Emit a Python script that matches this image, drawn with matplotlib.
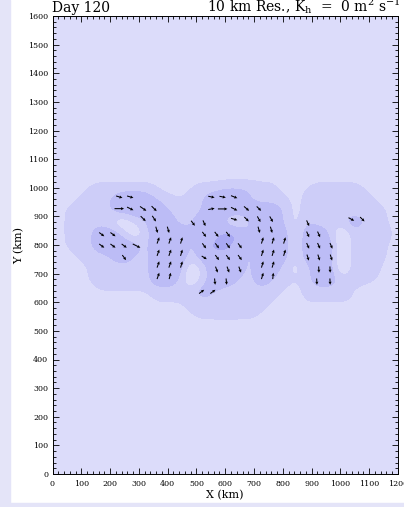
import numpy as np
import matplotlib.pyplot as plt
from matplotlib.colors import ListedColormap, BoundaryNorm
from matplotlib.patches import Rectangle
from matplotlib.ticker import MultipleLocator

plt.rcParams['font.family'] = ['DejaVu Serif']
plt.rcParams['mathtext.fontset'] = 'dejavuserif'

# shaded field on a 40 km grid
# 0 lighter than background, 2 background, 4 first shade, 7 second shade, 9 darkest
grid_x = np.arange(0, 1201, 40)
grid_y = np.arange(1080, 519, -40)
field_rows = [
    "2222222222" "2222222222" "2222222222" "2",  # 1080
    "2222222222" "2222222222" "2222222222" "2",  # 1040
    "2223444443" "2234455544" "2234444322" "2",  # 1000
    "2234457775" "4345777544" "4244444432" "2",  # 960
    "2344457777" "5445777777" "5244444443" "2",  # 920
    "2344430357" "7457741577" "5254447543" "2",  # 880
    "2344775047" "7755799547" "7277504444" "2",  # 840
    "2344777747" "7747997477" "7277704443" "2",  # 800
    "2234457547" "7747777477" "7277704443" "2",  # 760
    "2223444447" "7704777477" "4247704442" "2",  # 720
    "2223444447" "7504775475" "4347744432" "2",  # 680
    "2222333334" "4447544444" "3244443222" "2",  # 640
    "2222222223" "3344444443" "2233333222" "2",  # 600
    "2222222222" "2234444432" "2222222222" "2",  # 560
    "2222222222" "2222222222" "2222222222" "2",  # 520
]
field = np.array([[int(c) for c in row] for row in field_rows], float)

# wind vectors: position (km) and components
arrow_x = [232, 270, 232, 270, 315, 353, 315, 353, 362, 402,
           367, 408, 448, 367, 408, 448, 367, 408, 448, 367, 408,
           171, 210, 171, 210, 249, 292, 249,
           552, 591, 631, 552, 591, 631, 631, 674, 717, 674, 717, 760, 717, 760,
           729, 766, 806, 729, 766, 806, 729, 766, 729, 766,
           488, 527, 527, 570, 610, 527, 572, 610, 651, 527, 572, 610, 651,
           570, 610, 651, 564, 604, 518, 557,
           887, 887, 925, 887, 925, 968, 887, 925, 968, 925, 964, 918, 964,
           1038, 1076]
arrow_y = [968, 968, 927, 927, 927, 927, 892, 892, 853, 853,
           816, 816, 816, 773, 773, 773, 732, 732, 732, 692, 692,
           837, 837, 797, 797, 797, 797, 756,
           968, 968, 968, 926, 926, 926, 890, 927, 927, 890, 890, 890, 853, 853,
           816, 816, 816, 773, 773, 773, 732, 732, 692, 692,
           876, 876, 837, 837, 837, 797, 797, 797, 797, 756, 756, 756, 756,
           714, 714, 714, 672, 672, 637, 637,
           876, 837, 837, 797, 797, 797, 756, 756, 756, 714, 714, 672, 672,
           890, 890]
arrow_u = [1.0, 1.0, 1.5, 1.0, 1.0, 0.8, 0.8, 0.6, 0.3, 0.3,
           0.35, 0.35, 0.3, 0.35, 0.35, 0.3, 0.35, 0.35, 0.3, 0.35, 0.25,
           0.8, 0.8, 0.8, 0.8, 0.8, 1.2, 0.6,
           1.0, 1.0, 1.0, 1.0, 1.5, 1.0, 1.0, 0.8, 0.7, 0.7, 0.5, 0.5, 0.3, 0.3,
           0.3, 0.3, 0.3, 0.3, 0.3, 0.3, 0.3, 0.3, 0.3, 0.1,
           0.6, 0.4, 0.6, 0.6, 0.6, 0.6, 0.6, 0.6, 0.6, 0.8, 0.6, 0.6, 0.6,
           0.35, 0.35, 0.35, 0.1, 0.1, 0.8, 0.8,
           0.4, 0.4, 0.4, 0.4, 0.4, 0.4, 0.3, 0.3, 0.3, 0.05, 0.05, 0.05, 0.05,
           0.9, 0.7]
arrow_v = [-0.3, -0.3, 0.0, -0.5, -0.7, -0.8, -0.8, -0.9, -1.0, -1.0,
           1.0, 1.0, 1.0, 1.0, 1.0, 1.0, 1.0, 1.0, 1.0, 1.0, 1.0,
           -0.6, -0.6, -0.6, -0.6, -0.6, -0.6, -0.8,
           -0.2, -0.2, -0.4, 0.2, 0.0, -0.5, -0.3, -0.7, -0.7, -0.7, -0.9, -0.9, -1.0, -1.0,
           1.0, 1.0, 1.0, 1.0, 1.0, 1.0, 1.0, 1.0, 1.0, 1.0,
           -0.8, -0.9, -0.8, -0.8, -0.8, -0.8, -0.8, -0.8, -0.8, -0.5, -0.8, -0.8, -0.8,
           -0.95, -0.95, -0.95, -1.0, -1.0, 0.6, 0.6,
           -0.9, -0.9, -0.9, -0.9, -0.9, -0.9, -0.95, -0.95, -0.95, -1.0, -1.0, -1.0, -1.0,
           -0.5, -0.7]

shade_colors = ['#e0e0fc', '#dcdcfa', '#cdcdf8', '#bcbcf6', '#a8a8f3']
shade_bounds = [-1, 1, 3, 5, 8, 10]

fig = plt.figure(figsize=(4.04, 5.07), dpi=100)
fig.patches.append(Rectangle((0, 0), 10 / 404, 1, transform=fig.transFigure,
                             color='#e4e4f8', zorder=-1))
fig.patches.append(Rectangle((0, 0), 1, 4 / 507, transform=fig.transFigure,
                             color='#e4e4f8', zorder=-1))

ax = fig.add_axes([52.5 / 404, 33 / 507, 345.5 / 404, 458 / 507])
ax.set_facecolor(shade_colors[1])
ax.imshow(field, extent=[grid_x[0] - 20, grid_x[-1] + 20, grid_y[-1] - 20, grid_y[0] + 20],
          cmap=ListedColormap(shade_colors), norm=BoundaryNorm(shade_bounds, 5),
          interpolation='bicubic', interpolation_stage='data', origin='upper', aspect='auto')
ax.quiver(arrow_x, arrow_y, arrow_u, arrow_v, angles='xy', scale_units='xy', scale=1 / 22,
          pivot='middle', width=0.003, headwidth=3, headlength=3, headaxislength=2.7,
          color='black')

ax.set_xlim(0, 1200)
ax.set_ylim(0, 1600)
ax.xaxis.set_major_locator(MultipleLocator(100))
ax.xaxis.set_minor_locator(MultipleLocator(20))
ax.yaxis.set_major_locator(MultipleLocator(100))
ax.yaxis.set_minor_locator(MultipleLocator(20))
ax.tick_params(which='both', direction='in', top=True, right=True, width=0.6, labelsize=5.7)
ax.tick_params(axis='x', pad=4)
ax.tick_params(axis='y', pad=3)
ax.tick_params(which='major', length=4)
ax.tick_params(which='minor', length=2)
for s in ax.spines.values():
    s.set_linewidth(0.7)

ax.set_xlabel('X (km)', fontsize=8, labelpad=2)
ax.set_ylabel('Y (km)', fontsize=8, labelpad=3)
fig.text(52 / 404, 1 - 12 / 507, 'Day 120', fontsize=10, ha='left', va='baseline')
fig.text(207 / 404, 1 - 12 / 507, '10 km Res., K$_\\mathrm{h}$  =  0 m$^2$ s$^{-1}$',
         fontsize=10, ha='left', va='baseline')

fig.savefig('out.png', dpi=100)
